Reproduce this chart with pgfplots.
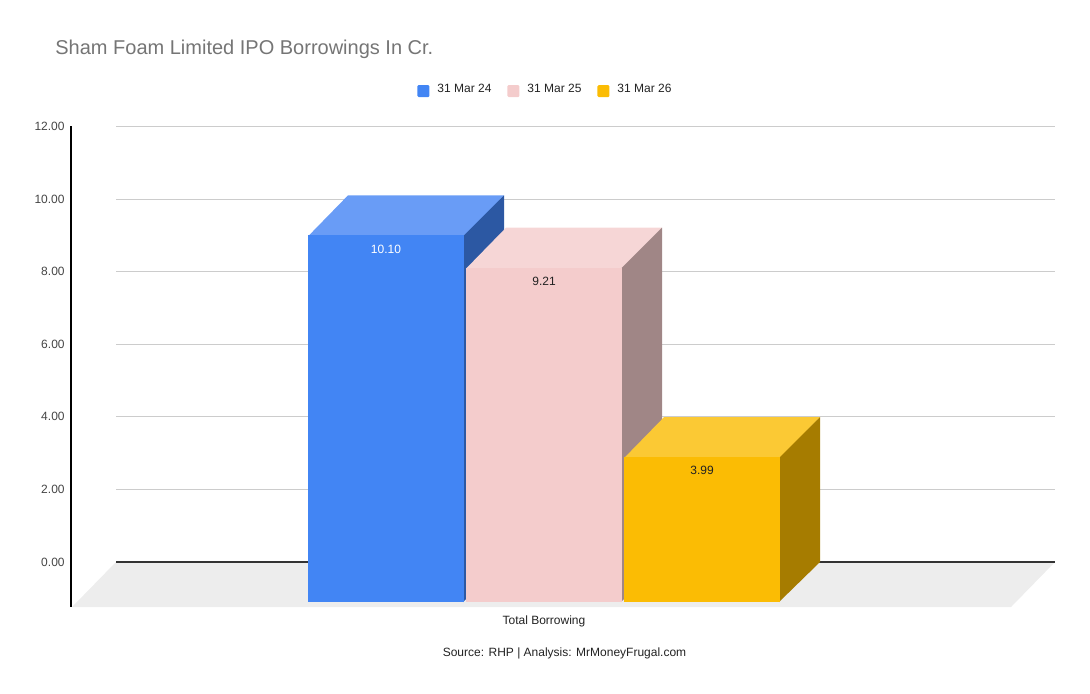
\documentclass[border=0pt]{standalone}
\usepackage{fontspec}
\setmainfont{Liberation Sans}
\usepackage{pgfplots}
\usepackage{pgfplotstable}
\pgfplotsset{compat=1.18}

% 1px of the reference = 0.5pt here; 36.3px per unit on y
\definecolor{blueF}{HTML}{4285F4}
\definecolor{blueT}{HTML}{699CF6}
\definecolor{blueS}{HTML}{2C58A3}
\definecolor{pinkF}{HTML}{F4CCCC}
\definecolor{pinkT}{HTML}{F6D6D6}
\definecolor{pinkS}{HTML}{A08686}
\definecolor{yelF}{HTML}{FBBC04}
\definecolor{yelT}{HTML}{FBC934}
\definecolor{yelS}{HTML}{A67C00}
\definecolor{floorc}{HTML}{EDEDED}
\definecolor{gridc}{HTML}{CCCCCC}
\definecolor{titlec}{HTML}{757575}
\definecolor{txt}{HTML}{222222}
\definecolor{tickc}{HTML}{444444}

% Total Borrowing (Cr.), x = centre of the front face
\pgfplotstableread{
x   v
386 10.10
544 9.21
702 3.99
}\bars
\pgfplotstablegetelem{0}{v}\of\bars \let\vA\pgfplotsretval
\pgfplotstablegetelem{1}{v}\of\bars \let\vB\pgfplotsretval
\pgfplotstablegetelem{2}{v}\of\bars \let\vC\pgfplotsretval

% corners of the 3d faces: px offsets from front centre, f = 1 at the top
% (front edges reach 1px under the front face, which is drawn over them)
\pgfplotstableread{
dx  dy  f
-78 -41 1
-38 0   1
118 0   1
78  -41 1
}\topface
\pgfplotstableread{
dx  dy  f
77  -41 1
118 0   1
118 0   0
77  -40 0
}\sideface

\pgfdeclareplotmark{empty}{}

\pgfplotsset{
  front/.style={ybar, bar width=78pt, bar shift=0pt, fill=#1, draw=none,
    yshift=-20pt,
    legend image code/.code={\fill[#1, yshift=20pt, rounded corners=0.6pt] (0pt,-3.4pt) rectangle (6pt,2.6pt);}},
  face/.style={fill=#1, draw=none, forget plot},
  lab/.style={only marks, mark=empty, forget plot, point meta=y,
    nodes near coords={\pgfmathprintnumber[fixed, fixed zerofill, precision=2]{\pgfplotspointmeta}},
    every node near coord/.append style={anchor=center, yshift=-26.75pt, text=#1,
      font=\fontsize{6}{7}\selectfont, inner sep=0pt}},
}

\begin{document}
\begin{tikzpicture}
\begin{axis}[
    x=0.5pt, y=18.15pt,
    xmin=116, xmax=1055,
    ymin=-1.2397, ymax=12,
    clip=false,
    axis line style={draw=none},
    tick style={draw=none},
    major tick length=0pt,
    ytick={0,2,4,6,8,10,12},
    ymajorgrids,
    grid style={gridc, line width=0.5pt},
    /pgf/number format/assume math mode=true,
    yticklabel={\pgfmathprintnumber[fixed, fixed zerofill, precision=2]{\tick}},
    yticklabel style={anchor=east, inner sep=0pt, xshift=-25.5pt,
      font=\fontsize{6}{7}\selectfont, text=tickc},
    xtick={544},
    xticklabels={Total Borrowing},
    xticklabel style={anchor=base, inner sep=0pt, yshift=-8.75pt,
      font=\fontsize{6}{7}\selectfont, text=txt},
    legend columns=3,
    legend style={at={(0.4563,1.0740)}, anchor=center, draw=none, fill=none,
      inner sep=0pt, outer sep=0pt, font=\fontsize{6}{7}\selectfont, text=txt,
      nodes={inner sep=0pt},
      /tikz/every odd column/.append style={column sep=4pt},
      /tikz/every even column/.append style={column sep=8pt}},
  ]

  % floor
  \addplot[fill=floorc, draw=none, forget plot]
    coordinates {(116,0) (1055,0) (1011,-1.2397) (72,-1.2397)} -- cycle;
  % zero line
  \addplot[color=black!80, line width=0.6pt, forget plot]
    coordinates {(116,0) (1055,0)};
  % y axis line
  \addplot[color=black, line width=0.6pt, forget plot]
    coordinates {(71,12) (71,-1.2397)};

  % 31 Mar 24
  \addplot[face=blueT] table[x expr=386+\thisrow{dx}, y expr=\thisrow{f}*\vA+\thisrow{dy}/36.3] {\topface} -- cycle;
  \addplot[face=blueS] table[x expr=386+\thisrow{dx}, y expr=\thisrow{f}*\vA+\thisrow{dy}/36.3] {\sideface} -- cycle;
  \addplot[front={blueF}] table[x=x, y=v, skip coords between index={1}{3}] {\bars};
  \addlegendentry{31 Mar 24}
  \addplot[lab=white] table[x=x, y=v, skip coords between index={1}{3}] {\bars};

  % 31 Mar 25
  \addplot[face=pinkT] table[x expr=544+\thisrow{dx}, y expr=\thisrow{f}*\vB+\thisrow{dy}/36.3] {\topface} -- cycle;
  \addplot[face=pinkS] table[x expr=544+\thisrow{dx}, y expr=\thisrow{f}*\vB+\thisrow{dy}/36.3] {\sideface} -- cycle;
  \addplot[front={pinkF}] table[x=x, y=v, skip coords between index={0}{1}, skip coords between index={2}{3}] {\bars};
  \addlegendentry{31 Mar 25}
  \addplot[lab=txt] table[x=x, y=v, skip coords between index={0}{1}, skip coords between index={2}{3}] {\bars};

  % 31 Mar 26
  \addplot[face=yelT] table[x expr=702+\thisrow{dx}, y expr=\thisrow{f}*\vC+\thisrow{dy}/36.3] {\topface} -- cycle;
  \addplot[face=yelS] table[x expr=702+\thisrow{dx}, y expr=\thisrow{f}*\vC+\thisrow{dy}/36.3] {\sideface} -- cycle;
  \addplot[front={yelF}] table[x=x, y=v, skip coords between index={0}{2}] {\bars};
  \addlegendentry{31 Mar 26}
  \addplot[lab=txt] table[x=x, y=v, skip coords between index={0}{2}] {\bars};

  \node[anchor=base west, inner sep=0pt, text=titlec, font=\fontsize{10}{12}\selectfont]
    at (axis cs:55,13.967) {Sham Foam Limited IPO Borrowings In Cr.};
  \node[anchor=base, inner sep=0pt, text=txt, font=\fontsize{6}{7}\selectfont]
    at (axis cs:564.5,-2.598) {Source: RHP | Analysis: MrMoneyFrugal.com};

  \coordinate (bbtl) at (axis cs:0,15.482);
  \coordinate (bbbr) at (axis cs:1090,-3.636);
\end{axis}
\pgfresetboundingbox
\useasboundingbox (bbtl) rectangle (bbbr);
\end{tikzpicture}
\end{document}
